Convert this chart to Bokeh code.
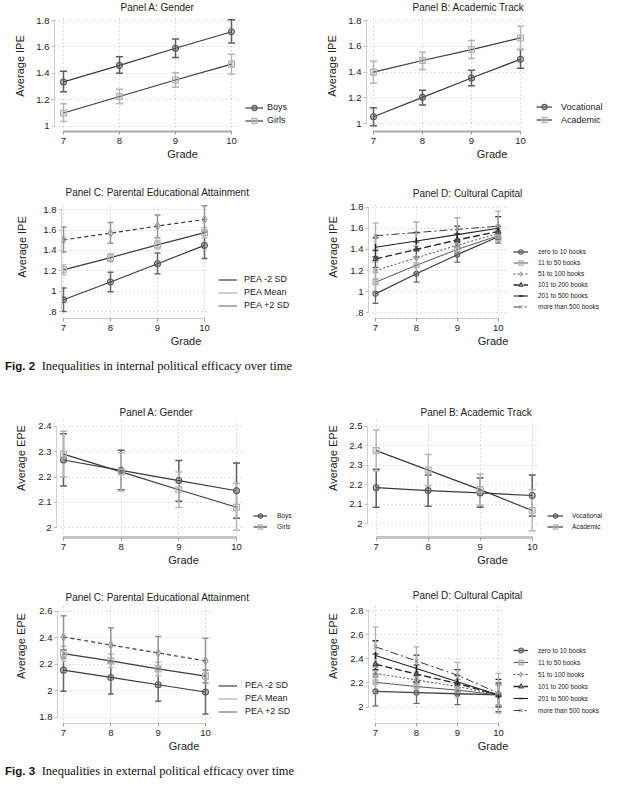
import math
from bokeh.plotting import figure
from bokeh.models import Range1d, FixedTicker, Legend, LegendItem, Div, Label
from bokeh.layouts import column, row
from bokeh.embed import file_html
from bokeh.resources import INLINE

# ---------------- data ----------------
grades = [7, 8, 9, 10]
grade_label = "Grade"

# Fig. 2 - internal political efficacy (IPE)
ipe_boys = [1.335, 1.46, 1.59, 1.715]
ipe_boys_lo = [1.26, 1.40, 1.52, 1.63]
ipe_boys_hi = [1.415, 1.525, 1.66, 1.805]
ipe_girls = [1.10, 1.225, 1.35, 1.47]
ipe_girls_lo = [1.035, 1.17, 1.295, 1.395]
ipe_girls_hi = [1.17, 1.28, 1.405, 1.545]

ipe_voc = [1.055, 1.205, 1.355, 1.50]
ipe_voc_lo = [0.985, 1.145, 1.295, 1.43]
ipe_voc_hi = [1.125, 1.26, 1.415, 1.575]
ipe_acad = [1.40, 1.49, 1.575, 1.665]
ipe_acad_lo = [1.315, 1.42, 1.505, 1.575]
ipe_acad_hi = [1.485, 1.555, 1.645, 1.755]

ipe_pea_m2 = [0.915, 1.09, 1.27, 1.45]
ipe_pea_m2_lo = [0.80, 0.995, 1.17, 1.32]
ipe_pea_m2_hi = [1.03, 1.185, 1.375, 1.58]
ipe_pea_mean = [1.21, 1.33, 1.455, 1.575]
ipe_pea_mean_lo = [1.16, 1.29, 1.415, 1.525]
ipe_pea_mean_hi = [1.26, 1.37, 1.50, 1.625]
ipe_pea_p2 = [1.505, 1.57, 1.64, 1.705]
ipe_pea_p2_lo = [1.385, 1.47, 1.525, 1.58]
ipe_pea_p2_hi = [1.63, 1.675, 1.75, 1.84]

ipe_b0 = [0.98, 1.17, 1.35, 1.52]
ipe_b0_lo = [0.89, 1.09, 1.28, 1.46]
ipe_b0_hi = [1.07, 1.25, 1.42, 1.58]
ipe_b1 = [1.09, 1.25, 1.40, 1.53]
ipe_b1_lo = [1.00, 1.18, 1.34, 1.48]
ipe_b1_hi = [1.18, 1.32, 1.46, 1.58]
ipe_b2 = [1.20, 1.32, 1.44, 1.55]
ipe_b2_lo = [1.12, 1.25, 1.38, 1.50]
ipe_b2_hi = [1.28, 1.39, 1.50, 1.60]
ipe_b3 = [1.31, 1.40, 1.49, 1.57]
ipe_b3_lo = [1.23, 1.33, 1.43, 1.52]
ipe_b3_hi = [1.39, 1.47, 1.55, 1.62]
ipe_b4 = [1.42, 1.48, 1.54, 1.60]
ipe_b4_lo = [1.33, 1.40, 1.47, 1.50]
ipe_b4_hi = [1.51, 1.56, 1.62, 1.71]
ipe_b5 = [1.53, 1.56, 1.59, 1.62]
ipe_b5_lo = [1.40, 1.43, 1.48, 1.48]
ipe_b5_hi = [1.65, 1.66, 1.70, 1.76]

# Fig. 3 - external political efficacy (EPE)
epe_boys = [2.267, 2.226, 2.186, 2.146]
epe_boys_lo = [2.165, 2.15, 2.105, 2.038]
epe_boys_hi = [2.37, 2.305, 2.265, 2.255]
epe_girls = [2.29, 2.22, 2.15, 2.081]
epe_girls_lo = [2.20, 2.145, 2.08, 1.99]
epe_girls_hi = [2.38, 2.295, 2.22, 2.175]

epe_voc = [2.185, 2.17, 2.158, 2.145]
epe_voc_lo = [2.085, 2.09, 2.085, 2.04]
epe_voc_hi = [2.28, 2.25, 2.235, 2.25]
epe_acad = [2.375, 2.275, 2.175, 2.068]
epe_acad_lo = [2.27, 2.195, 2.095, 1.965]
epe_acad_hi = [2.48, 2.355, 2.255, 2.175]

epe_pea_m2 = [2.155, 2.10, 2.045, 1.99]
epe_pea_m2_lo = [1.995, 1.975, 1.92, 1.825]
epe_pea_m2_hi = [2.31, 2.22, 2.17, 2.155]
epe_pea_mean = [2.28, 2.225, 2.165, 2.11]
epe_pea_mean_lo = [2.225, 2.175, 2.115, 2.06]
epe_pea_mean_hi = [2.335, 2.275, 2.215, 2.16]
epe_pea_p2 = [2.405, 2.345, 2.285, 2.225]
epe_pea_p2_lo = [2.245, 2.215, 2.16, 2.06]
epe_pea_p2_hi = [2.565, 2.475, 2.41, 2.395]

epe_b0 = [2.13, 2.12, 2.11, 2.10]
epe_b0_lo = [2.01, 2.03, 2.02, 2.01]
epe_b0_hi = [2.25, 2.21, 2.20, 2.19]
epe_b1 = [2.205, 2.17, 2.14, 2.10]
epe_b1_lo = [2.11, 2.10, 2.08, 2.02]
epe_b1_hi = [2.30, 2.24, 2.20, 2.18]
epe_b2 = [2.278, 2.225, 2.17, 2.10]
epe_b2_lo = [2.20, 2.16, 2.11, 2.01]
epe_b2_hi = [2.36, 2.29, 2.23, 2.19]
epe_b3 = [2.355, 2.273, 2.195, 2.10]
epe_b3_lo = [2.27, 2.20, 2.13, 2.00]
epe_b3_hi = [2.44, 2.35, 2.26, 2.20]
epe_b4 = [2.428, 2.32, 2.21, 2.10]
epe_b4_lo = [2.31, 2.21, 2.11, 1.96]
epe_b4_hi = [2.55, 2.43, 2.31, 2.23]
epe_b5 = [2.50, 2.382, 2.264, 2.115]
epe_b5_lo = [2.33, 2.26, 2.16, 1.95]
epe_b5_hi = [2.665, 2.50, 2.37, 2.28]

# tick values and labels
ticks_ipe_ab = [1.0, 1.2, 1.4, 1.6, 1.8]
labels_ipe_ab = ["1", "1.2", "1.4", "1.6", "1.8"]
ticks_ipe_cd = [0.8, 1.0, 1.2, 1.4, 1.6, 1.8]
labels_ipe_cd = [".8", "1", "1.2", "1.4", "1.6", "1.8"]
ticks_epe_a = [2.0, 2.1, 2.2, 2.3, 2.4]
labels_epe_a = ["2", "2.1", "2.2", "2.3", "2.4"]
ticks_epe_b = [2.0, 2.1, 2.2, 2.3, 2.4, 2.5]
labels_epe_b = ["2", "2.1", "2.2", "2.3", "2.4", "2.5"]
ticks_epe_c = [1.8, 2.0, 2.2, 2.4, 2.6]
labels_epe_c = ["1.8", "2", "2.2", "2.4", "2.6"]
ticks_epe_d = [2.0, 2.2, 2.4, 2.6, 2.8]
labels_epe_d = ["2", "2.2", "2.4", "2.6", "2.8"]

gender_labels = ["Boys", "Girls"]
track_labels = ["Vocational", "Academic"]
pea_labels = ["PEA -2 SD", "PEA Mean", "PEA +2 SD"]
book_labels = ["zero to 10 books", "11 to 50 books", "51 to 100 books",
               "101 to 200 books", "201 to 500 books", "more than 500 books"]

titles = ["Panel A: Gender", "Panel B: Academic Track",
          "Panel C: Parental Educational Attainment", "Panel D: Cultural Capital"]
caption2 = "Inequalities in internal political efficacy over time"
caption3 = "Inequalities in external political efficacy over time"

# ---------------- styles ----------------
FONT = "Liberation Sans"
LINE = "#3a3a3a"
GRID = dict(color="#bcbcbc", dash="1 3")
STYLES = {
    "dark":   dict(line=LINE, lw=1.2, dash="solid", mk="circle", mc="#5a5a5a", ci="#5e5e5e", ms=1.0),
    "light":  dict(line=LINE, lw=1.2, dash="solid", mk="square", mc="#b2b2b2", ci="#b6b6b6", ms=1.0),
    "pm2":    dict(line=LINE, lw=1.2, dash="solid", mk="circle", mc="#5a5a5a", ci="#666666", ms=1.0),
    "pmean":  dict(line=LINE, lw=1.2, dash="solid", mk="square", mc="#b0b0b0", ci="#bdbdbd", ms=1.0),
    "pp2":    dict(line=LINE, lw=1.2, dash="4 3", mk="diamond", mc="#a0a0a0", ci="#939393", ms=1.3),
    "b0": dict(line="#404040", lw=1.3, dash="solid", mk="circle", mc="#606060", ci="#6a6a6a", ms=1.0),
    "b1": dict(line="#555555", lw=1.0, dash="solid", mk="square", mc="#b0b0b0", ci="#b8b8b8", ms=1.0),
    "b2": dict(line="#505050", lw=1.0, dash="2 2", mk="diamond", mc="#a8a8a8", ci="#acacac", ms=1.3),
    "b3": dict(line="#2a2a2a", lw=1.4, dash="7 3", mk="triangle", mc="#454545", ci="#555555", ms=1.1),
    "b4": dict(line="#222222", lw=1.1, dash="solid", mk="dash", mc="#222222", ci="#333333", ms=1.4),
    "b5": dict(line="#3a3a3a", lw=1.0, dash="8 3 2 3", mk="x", mc="#9a9a9a", ci="#b0b0b0", ms=1.0),
}


def ser(label, y, lo, hi, style):
    return dict(label=label, y=y, lo=lo, hi=hi, style=style)


def build(g, title, ylabel, ticks, tick_labels, series, legend_kind):
    x0, y0, w, h = g["box"]
    L, R, T, B = g["plot"]          # plot-region edges (grid extent)
    FR, FT = x0 + w, y0             # drawing frame spans up to the figure's right/top edge
    (xv1, xp1), (xv2, xp2) = g["xmap"]
    (yv1, yp1), (yv2, yp2) = g["ymap"]
    kx = (xp2 - xp1) / (xv2 - xv1)
    ky = (yp2 - yp1) / (yv2 - yv1)
    xdat = lambda px: xv1 + (px - xp1) / kx
    ydat = lambda py: yv1 + (py - yp1) / ky
    p = figure(width=w, height=h, x_range=Range1d(xdat(L), xdat(FR)),
               y_range=Range1d(ydat(B), ydat(FT)), title=None,
               output_backend="svg", toolbar_location=None,
               min_border_left=L - x0, min_border_right=0,
               min_border_top=0, min_border_bottom=y0 + h - B)
    p.outline_line_color = None
    p.background_fill_color = "white"
    p.border_fill_color = "white"

    xa = p.xaxis[0]
    xa.ticker = FixedTicker(ticks=grades)
    xa.bounds = (grades[0], grades[-1])
    xa.axis_line_color = g["xaxis"][0]
    xa.axis_line_width = g["xaxis"][1]
    xa.major_tick_line_color = "#9a9a9a"
    xa.major_tick_out = 3
    xa.major_tick_in = 0
    xa.minor_tick_line_color = None
    xa.major_label_text_font = FONT
    xa.major_label_text_font_size = "9.5px"
    xa.major_label_text_color = "#222222"
    xa.major_label_standoff = 3
    xa.axis_label = grade_label
    xa.axis_label_text_font = FONT
    xa.axis_label_text_font_size = "11px"
    xa.axis_label_text_font_style = "normal"
    xa.axis_label_text_color = "#222222"
    xa.axis_label_standoff = 1

    ya = p.yaxis[0]
    ya.ticker = FixedTicker(ticks=ticks)
    ya.major_label_overrides = dict(zip(ticks, tick_labels))
    ya.bounds = (ticks[0], ticks[-1])
    ya.axis_line_color = "#d0d0d0"
    ya.axis_line_width = 1
    ya.major_tick_line_color = "#c0c0c0"
    ya.major_tick_out = 3
    ya.major_tick_in = 0
    ya.minor_tick_line_color = None
    ya.major_label_text_font = FONT
    ya.major_label_text_font_size = "9.5px"
    ya.major_label_text_color = "#222222"
    ya.major_label_standoff = 2
    ya.axis_label = ylabel
    ya.axis_label_text_font = FONT
    ya.axis_label_text_font_size = "11px"
    ya.axis_label_text_font_style = "normal"
    ya.axis_label_text_color = "#222222"
    ya.axis_label_standoff = g["ylab_so"]

    # dotted grid limited to the plot region (not under the legend / title)
    xg, yg = p.xgrid[0], p.ygrid[0]
    if "cross_bounds" in xg.properties():
        xg.cross_bounds = (ydat(B), ydat(T))
        yg.cross_bounds = (xdat(L), xdat(R))
        for grid in (xg, yg):
            grid.grid_line_color = GRID["color"]
            grid.grid_line_dash = GRID["dash"]
    else:
        xg.grid_line_color = None
        yg.grid_line_color = None
        p.segment(x0=grades, y0=[ydat(B)] * len(grades), x1=grades, y1=[ydat(T)] * len(grades),
                  line_color=GRID["color"], line_dash=GRID["dash"], line_width=1)
        p.segment(x0=[xdat(L)] * len(ticks), y0=ticks, x1=[xdat(R)] * len(ticks), y1=ticks,
                  line_color=GRID["color"], line_dash=GRID["dash"], line_width=1)

    ci_r, ln_r, mk_r = [], [], []
    for s in series:
        st = STYLES[s["style"]]
        r = p.segment(x0=grades, y0=s["lo"], x1=grades, y1=s["hi"],
                      line_color=st["ci"], line_width=g["ci_w"])
        for yy in (s["lo"], s["hi"]):
            p.scatter(x=grades, y=yy, marker="dash", size=g["cap"],
                      line_color=st["ci"], line_width=g["ci_w"])
        ci_r.append(r)
    for s in series:
        st = STYLES[s["style"]]
        r = p.line(x=grades, y=s["y"], line_color=st["line"], line_width=st["lw"],
                   line_dash=st["dash"])
        ln_r.append(r)
    for s in series:
        st = STYLES[s["style"]]
        kw = dict(x=grades, y=s["y"], marker=st["mk"], size=g["ms"] * st["ms"],
                  line_color=st["mc"], fill_color=st["mc"], fill_alpha=0.35,
                  line_width=1.1)
        if st["mk"] == "dash":
            kw["angle"] = math.pi / 2
            kw["line_width"] = 1.4
        r = p.scatter(**kw)
        mk_r.append(r)

    items = []
    for i, s in enumerate(series):
        rs = [ci_r[i]] if legend_kind == "ci" else [ln_r[i], mk_r[i]]
        items.append(LegendItem(label=s["label"], renderers=rs))
    lg = g["leg"]
    legend = Legend(items=items, location=(lg["x"] - L, B - (lg["last"] + lg["rh"] / 2.0)),
                    orientation="vertical", padding=0, spacing=0, margin=0,
                    glyph_width=lg["gw"], glyph_height=lg["rh"], label_height=lg["rh"],
                    label_standoff=lg["so"], label_text_font=FONT,
                    label_text_font_size=lg["fs"], label_text_color="#222222",
                    border_line_color=None, background_fill_alpha=0)
    p.add_layout(legend)

    tx, ty = g["title"]
    p.add_layout(Label(x=tx - L, y=B - ty, x_units="screen", y_units="screen",
                       text=title, text_align="center", text_baseline="middle",
                       text_font=FONT, text_font_size="10px", text_color="#222222"))
    return p


GEO = {
    "A2": dict(box=(0, 0, 310, 175), plot=(54, 240, 15, 131), xmap=((7, 63), (10, 231)),
               ymap=((1.0, 125.7), (1.8, 20)), title=(157, 7), ylab_so=7,
               xaxis=("#a8a8a8", 2), ci_w=1.5, cap=7, ms=6,
               leg=dict(x=245, gw=18, so=4, last=120, rh=13, fs="9px")),
    "B2": dict(box=(310, 0, 307, 175), plot=(366, 525, 15, 131), xmap=((7, 373), (10, 520)),
               ymap=((1.0, 123.3), (1.8, 20)), title=(468, 7), ylab_so=7,
               xaxis=("#a8a8a8", 2), ci_w=1.5, cap=7, ms=6,
               leg=dict(x=536, gw=16, so=9, last=119.5, rh=13, fs="9px")),
    "C2": dict(box=(0, 175, 310, 180), plot=(61, 208, 204, 318), xmap=((7, 63), (10, 204)),
               ymap=((0.8, 311), (1.8, 209.3)), title=(157, 192), ylab_so=12,
               xaxis=("#c8c8c8", 1), ci_w=1.5, cap=6, ms=6,
               leg=dict(x=218, gw=19, so=7, last=305, rh=13, fs="9px")),
    "D2": dict(box=(310, 175, 307, 180), plot=(368, 505, 202, 318), xmap=((7, 375), (10, 497.7)),
               ymap=((0.8, 312.3), (1.8, 206.7)), title=(467, 193), ylab_so=8,
               xaxis=("#c8c8c8", 1), ci_w=1.3, cap=6, ms=5,
               leg=dict(x=513, gw=15, so=10, last=306, rh=11, fs="6.5px")),
    "A3": dict(box=(0, 378, 310, 190), plot=(56, 242, 420, 537), xmap=((7, 63), (10, 236)),
               ymap=((2.0, 527.3), (2.4, 425.7)), title=(156, 412), ylab_so=8,
               xaxis=("#c4c4c4", 3), ci_w=1.5, cap=7, ms=6,
               leg=dict(x=253, gw=14, so=10, last=526.5, rh=11, fs="6.5px")),
    "B3": dict(box=(310, 378, 307, 190), plot=(367, 537, 420, 537), xmap=((7, 375.7), (10, 531.7)),
               ymap=((2.0, 523.3), (2.5, 425.7)), title=(476, 412), ylab_so=7,
               xaxis=("#c4c4c4", 3), ci_w=1.5, cap=7, ms=6,
               leg=dict(x=547, gw=16, so=9, last=526, rh=11, fs="6.5px")),
    "C3": dict(box=(0, 568, 310, 189), plot=(57, 210, 605, 723), xmap=((7, 63), (10, 205)),
               ymap=((1.8, 716.7), (2.6, 610.7)), title=(157, 597), ylab_so=9,
               xaxis=("#c8c8c8", 1), ci_w=1.5, cap=6, ms=6,
               leg=dict(x=218, gw=19, so=8, last=711, rh=13, fs="9px")),
    "D3": dict(box=(310, 568, 307, 189), plot=(368, 503, 605, 725), xmap=((7, 375), (10, 498)),
               ymap=((2.0, 708.3), (2.8, 610.7)), title=(467, 597), ylab_so=8,
               xaxis=("#c8c8c8", 1), ci_w=1.3, cap=6, ms=5,
               leg=dict(x=513, gw=15, so=10, last=712, rh=12, fs="6.5px")),
}

pA2 = build(GEO["A2"], titles[0], "Average IPE", ticks_ipe_ab, labels_ipe_ab, [
    ser(gender_labels[0], ipe_boys, ipe_boys_lo, ipe_boys_hi, "dark"),
    ser(gender_labels[1], ipe_girls, ipe_girls_lo, ipe_girls_hi, "light")], "full")
pB2 = build(GEO["B2"], titles[1], "Average IPE", ticks_ipe_ab, labels_ipe_ab, [
    ser(track_labels[0], ipe_voc, ipe_voc_lo, ipe_voc_hi, "dark"),
    ser(track_labels[1], ipe_acad, ipe_acad_lo, ipe_acad_hi, "light")], "full")
pC2 = build(GEO["C2"], titles[2], "Average IPE", ticks_ipe_cd, labels_ipe_cd, [
    ser(pea_labels[0], ipe_pea_m2, ipe_pea_m2_lo, ipe_pea_m2_hi, "pm2"),
    ser(pea_labels[1], ipe_pea_mean, ipe_pea_mean_lo, ipe_pea_mean_hi, "pmean"),
    ser(pea_labels[2], ipe_pea_p2, ipe_pea_p2_lo, ipe_pea_p2_hi, "pp2")], "ci")
pD2 = build(GEO["D2"], titles[3], "Average IPE", ticks_ipe_cd, labels_ipe_cd, [
    ser(book_labels[0], ipe_b0, ipe_b0_lo, ipe_b0_hi, "b0"),
    ser(book_labels[1], ipe_b1, ipe_b1_lo, ipe_b1_hi, "b1"),
    ser(book_labels[2], ipe_b2, ipe_b2_lo, ipe_b2_hi, "b2"),
    ser(book_labels[3], ipe_b3, ipe_b3_lo, ipe_b3_hi, "b3"),
    ser(book_labels[4], ipe_b4, ipe_b4_lo, ipe_b4_hi, "b4"),
    ser(book_labels[5], ipe_b5, ipe_b5_lo, ipe_b5_hi, "b5")], "full")

pA3 = build(GEO["A3"], titles[0], "Average EPE", ticks_epe_a, labels_epe_a, [
    ser(gender_labels[0], epe_boys, epe_boys_lo, epe_boys_hi, "dark"),
    ser(gender_labels[1], epe_girls, epe_girls_lo, epe_girls_hi, "light")], "full")
pB3 = build(GEO["B3"], titles[1], "Average EPE", ticks_epe_b, labels_epe_b, [
    ser(track_labels[0], epe_voc, epe_voc_lo, epe_voc_hi, "dark"),
    ser(track_labels[1], epe_acad, epe_acad_lo, epe_acad_hi, "light")], "full")
pC3 = build(GEO["C3"], titles[2], "Average EPE", ticks_epe_c, labels_epe_c, [
    ser(pea_labels[0], epe_pea_m2, epe_pea_m2_lo, epe_pea_m2_hi, "pm2"),
    ser(pea_labels[1], epe_pea_mean, epe_pea_mean_lo, epe_pea_mean_hi, "pmean"),
    ser(pea_labels[2], epe_pea_p2, epe_pea_p2_lo, epe_pea_p2_hi, "pp2")], "ci")
pD3 = build(GEO["D3"], titles[3], "Average EPE", ticks_epe_d, labels_epe_d, [
    ser(book_labels[0], epe_b0, epe_b0_lo, epe_b0_hi, "b0"),
    ser(book_labels[1], epe_b1, epe_b1_lo, epe_b1_hi, "b1"),
    ser(book_labels[2], epe_b2, epe_b2_lo, epe_b2_hi, "b2"),
    ser(book_labels[3], epe_b3, epe_b3_lo, epe_b3_hi, "b3"),
    ser(book_labels[4], epe_b4, epe_b4_lo, epe_b4_hi, "b4"),
    ser(book_labels[5], epe_b5, epe_b5_lo, epe_b5_hi, "b5")], "full")


def caption(num, text, h):
    html = ('<div style="height:%dpx;line-height:%dpx;padding-left:5px;white-space:nowrap;color:#111">'
            '<span style="font-family:\'Liberation Sans\';font-weight:bold;font-size:11.5px">Fig. %s</span>'
            '&nbsp;&nbsp;<span style="font-family:\'Liberation Serif\';font-size:12.5px">%s</span></div>'
            % (h, h, num, text))
    return Div(text=html, width=617, height=h, margin=0)


layout = column(
    row(pA2, pB2),
    row(pC2, pD2),
    caption("2", caption2, 23),
    row(pA3, pB3),
    row(pC3, pD3),
    caption("3", caption3, 29),
)

open("out.html", "w").write(file_html(layout, INLINE))
